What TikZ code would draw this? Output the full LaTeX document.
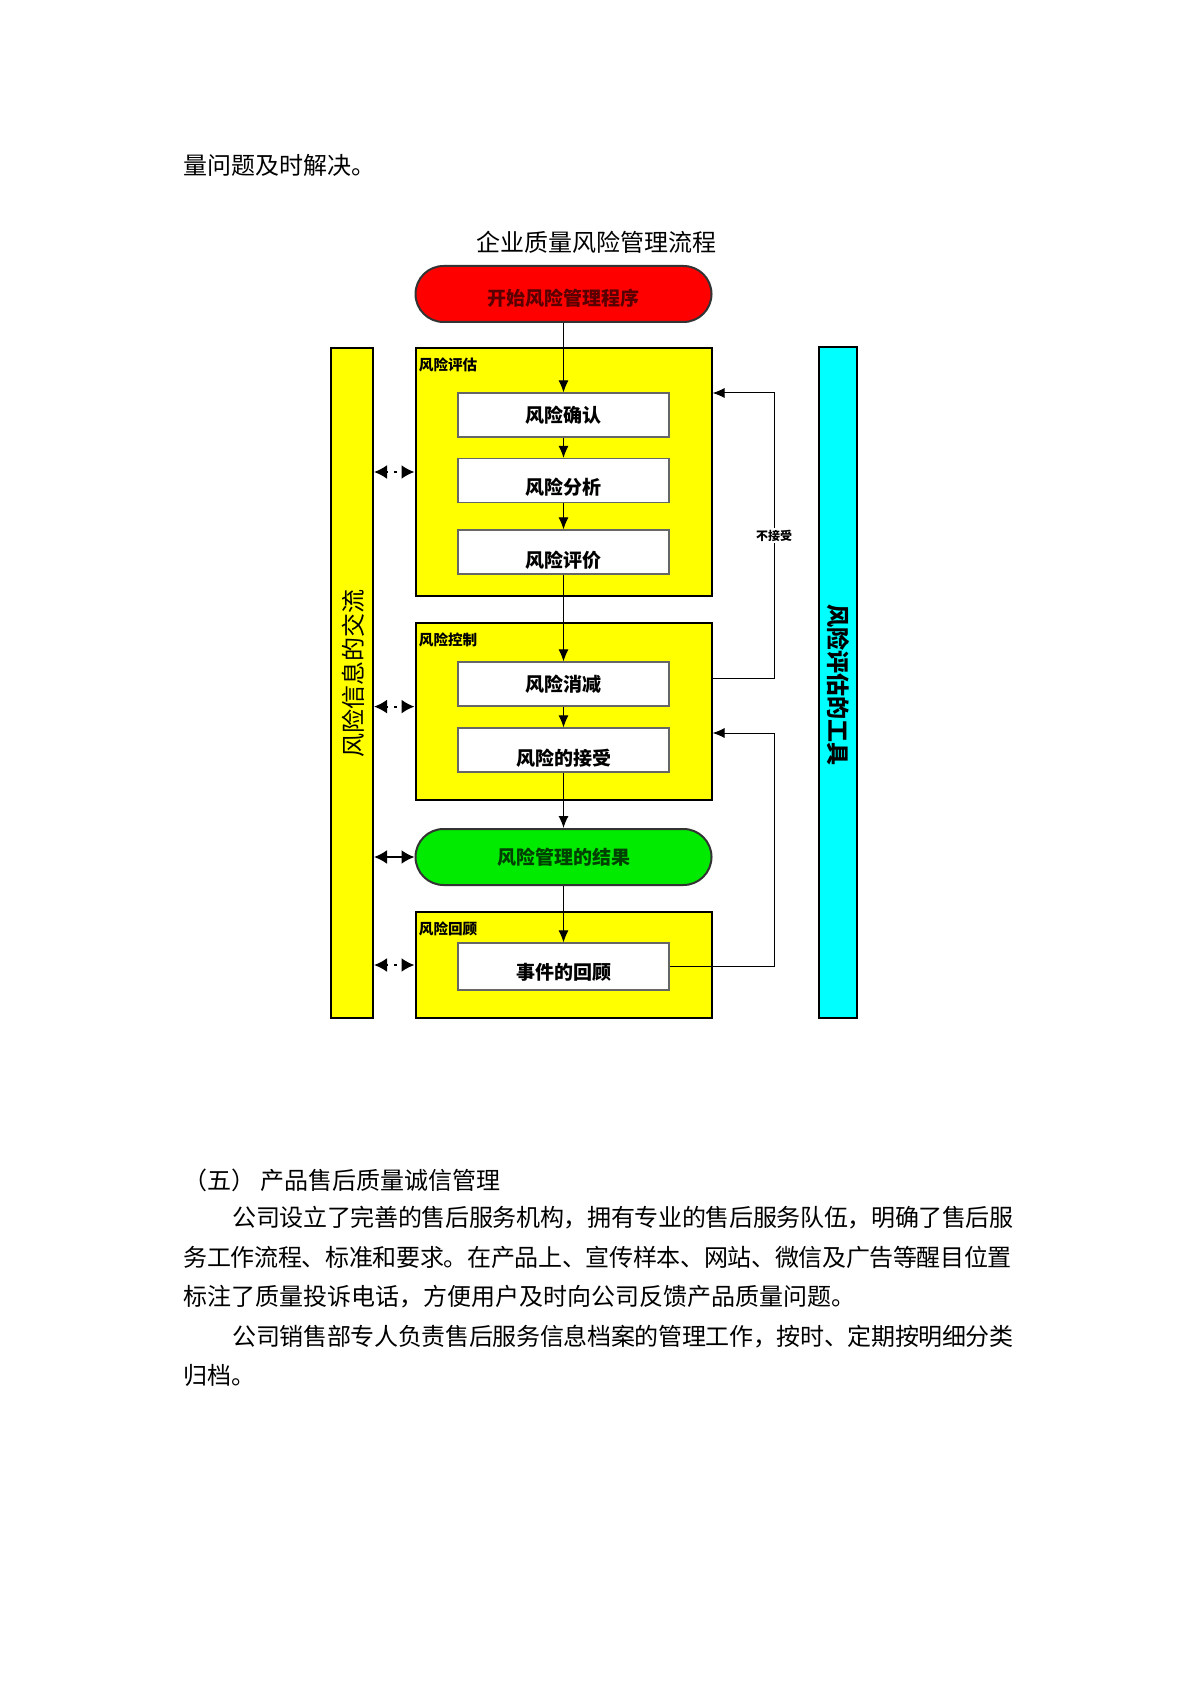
\documentclass[tikz,border=0pt]{standalone}
\usepackage{fontspec}
\usetikzlibrary{arrows.meta}
\newfontfamily\cjk{Noto Sans CJK SC}
\newfontfamily\cjktight{Noto Sans CJK SC}[LetterSpace=-1.4]

\definecolor{phaseyellow}{RGB}{255,255,0}
\definecolor{toolcyan}{RGB}{0,255,255}
\definecolor{startred}{RGB}{255,0,0}
\definecolor{resultgreen}{RGB}{0,235,0}

\tikzset{
  phase/.style={draw=black, line width=1pt, fill=phaseyellow, minimum width=148pt, inner sep=0pt},
  task/.style={draw=black!60, line width=0.6pt, fill=white, minimum width=105.5pt, minimum height=22pt, inner sep=0pt, font=\cjk\bfseries\fontsize{9.5}{10}\selectfont},
  terminal/.style={draw=black!80, line width=1pt, rounded corners=14pt, minimum width=148pt, minimum height=28pt, inner sep=0pt, font=\cjk\bfseries\fontsize{9.5}{10}\selectfont},
  sink/.style={text height=#1, text depth=0pt},
  phaselabel/.style={anchor=north west, inner sep=2pt, yshift=-3pt, font=\cjk\bfseries\fontsize{7.3}{8}\selectfont},
  sidebar/.style={draw=black, line width=1pt, minimum height=335pt, inner sep=0pt},
  flow/.style={-{Latex[length=6pt,width=5pt]}, line width=0.5pt},
  link/.style={{Latex[length=6.5pt,width=7pt]}-{Latex[length=6.5pt,width=7pt]}, line width=1pt},
  bodytext/.style={anchor=west, inner sep=0pt, font=\cjk\fontsize{12}{14}\selectfont},
  tighttext/.style={anchor=west, inner sep=0pt, font=\cjktight\fontsize{12}{14}\selectfont}
}

\begin{document}
\begin{tikzpicture}[x=0.5pt, y=-0.5pt]
        \useasboundingbox (0,0) rectangle (1191,1684);
        \fill[white] (0,0) rectangle (1191,1684);

        % text above
        \node[bodytext] (prevline) at (183,165) {量问题及时解决。};
        \node[font=\cjk\fontsize{12}{14}\selectfont] (title) at (596,242) {企业质量风险管理流程};

        % side bars
        \node[sidebar, fill=phaseyellow, minimum width=21pt] (infobar) at (352,683) {};
        \node[sidebar, fill=toolcyan, minimum width=19pt] (toolbar) at (838,682.5) {};
        \node[rotate=90, font=\cjk\fontsize{12}{14}\selectfont] (infotext) at (353,673) {风险信息的交流};
        \node[rotate=-90, font=\cjk\bfseries\fontsize{11.5}{14}\selectfont] (tooltext) at (838,685) {风险评估的工具};

        % main flow
        \node[terminal, fill=startred, text=red!35!black, sink=11.6pt] (start) at (563.5,294) {开始风险管理程序};
        \node[phase, minimum height=124pt] (assess) at (563.5,472) {};
        \node[phaselabel] (assesslabel) at (assess.north west) {风险评估};
        \node[task] (ident) at (563.5,415) {风险确认};
        \node[task, sink=13.6pt] (analyse) at (563.5,480.5) {风险分析};
        \node[task, sink=15.8pt] (evalu) at (563.5,552) {风险评价};

        \node[phase, minimum height=88.5pt] (control) at (563.5,711.5) {};
        \node[phaselabel] (controllabel) at (control.north west) {风险控制};
        \node[task] (reduce) at (563.5,684) {风险消减};
        \node[task, sink=15.8pt] (accept) at (563.5,750) {风险的接受};

        \node[terminal, fill=resultgreen, text=green!25!black] (result) at (563.5,857) {风险管理的结果};

        \node[phase, minimum height=53pt] (review) at (563.5,965) {};
        \node[phaselabel] (reviewlabel) at (review.north west) {风险回顾};
        \node[task, minimum height=23.5pt, sink=12.6pt] (event) at (563.5,966.5) {事件的回顾};

        \draw[flow] (start) -- (ident);
        \draw[flow] (ident) -- (analyse);
        \draw[flow] (analyse) -- (evalu);
        \draw[flow] (evalu) -- (reduce);
        \draw[flow] (reduce) -- (accept);
        \draw[flow] (accept) -- (result);
        \draw[flow] (result) -- (event);

        % feedback loops
        \coordinate (backA) at (774,678);
        \coordinate (backB) at (774,393);
        \coordinate (backC) at (774,733);
        \draw[flow] (control.east |- backA) -- (backA) -- node[fill=white, inner sep=1pt, font=\cjk\bfseries\fontsize{6}{7}\selectfont] (rejectlabel) {不接受} (backB) -- (assess.east |- backB);
        \draw[flow] (event.east) -| (backC) -- (control.east |- backC);

        % links to the information bar
        \draw[link, dash pattern=on 1.2pt off 3pt] (infobar.east |- assess.west) -- (assess.west);
        \draw[link, dash pattern=on 1.2pt off 3pt] (infobar.east |- reduce.south) -- (control.west |- reduce.south);
        \draw[link] (infobar.east |- result.west) -- (result.west);
        \draw[link, dash pattern=on 1.2pt off 3pt] (infobar.east |- review.west) -- (review.west);

        % text below
        \node[bodytext] (sechead) at (183,1180) {（五）\ 产品售后质量诚信管理};
        \node[tighttext] (paraonea) at (232,1218) {公司设立了完善的售后服务机构，拥有专业的售后服务队伍，明确了售后服};
        \node[tighttext] (paraoneb) at (183,1257) {务工作流程、标准和要求。在产品上、宣传样本、网站、微信及广告等醒目位置};
        \node[bodytext] (paraonec) at (183,1297) {标注了质量投诉电话，方便用户及时向公司反馈产品质量问题。};
        \node[tighttext] (paratwoa) at (232,1337) {公司销售部专人负责售后服务信息档案的管理工作，按时、定期按明细分类};
        \node[bodytext] (paratwob) at (183,1375) {归档。};
    \end{tikzpicture}
\end{document}
